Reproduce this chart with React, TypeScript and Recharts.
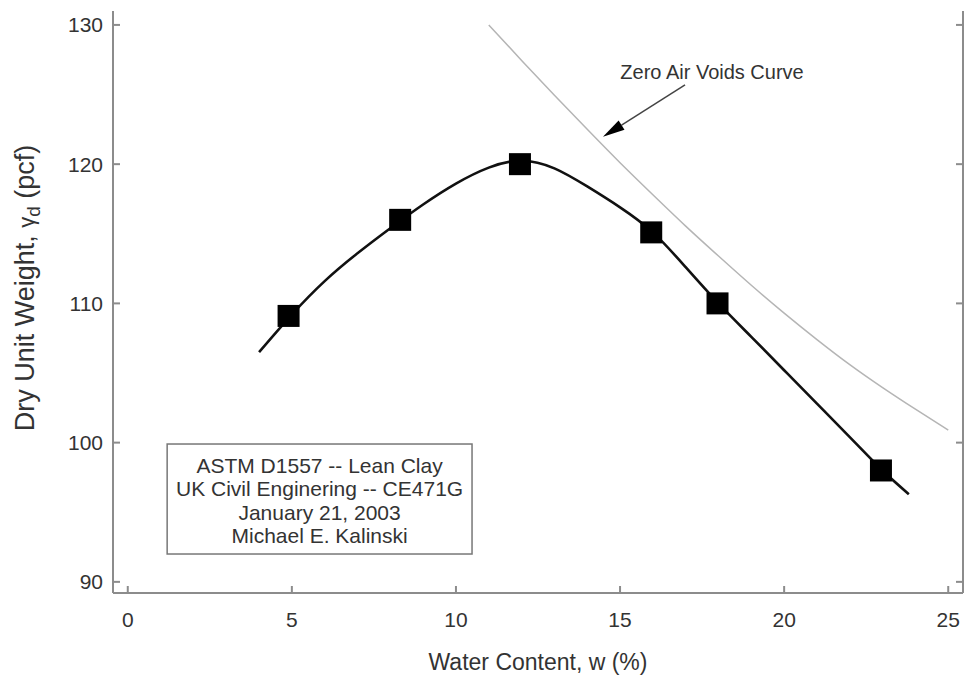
import {
  ComposedChart,
  Line,
  Scatter,
  XAxis,
  YAxis,
  ReferenceArea,
  ReferenceLine,
} from 'recharts';

// measured compaction points
const waterContent = [4.9, 8.3, 11.95, 15.95, 17.97, 22.95];
const dryUnitWeight = [109.1, 116.0, 120.0, 115.1, 110.0, 98.0];

// fitted compaction curve
const fitW = [4.0, 5.0, 6.0, 7.0, 8.0, 9.0, 10.0, 11.0, 12.0, 13.0, 14.0, 15.0, 16.0, 17.0, 18.0, 19.0, 20.0, 21.0, 22.0, 23.0, 23.8];
const fitGamma = [106.5, 109.2, 111.6, 113.6, 115.4, 117.1, 118.6, 119.75, 120.25, 119.7, 118.4, 116.9, 115.1, 112.6, 110.0, 107.6, 105.2, 102.8, 100.4, 98.0, 96.3];

// zero air voids curve
const zavW = [11, 12, 13, 14, 15, 16, 17, 18, 19, 20, 21, 22, 23, 24, 25];
const zavGamma = [130.0, 127.45, 124.95, 122.5, 120.1, 117.8, 115.55, 113.4, 111.3, 109.3, 107.4, 105.6, 103.95, 102.4, 100.9];

const xTicks = [0, 5, 10, 15, 20, 25];
const yTicks = [90, 100, 110, 120, 130];

const noteLines = [
  'ASTM D1557 -- Lean Clay',
  'UK Civil Enginering -- CE471G',
  'January 21, 2003',
  'Michael E. Kalinski',
];
const zavLabel = 'Zero Air Voids Curve';
const xLabel = 'Water Content, w (%)';

const points = waterContent.map((x, i) => ({ x, y: dryUnitWeight[i] }));
const fitData = fitW.map((x, i) => ({ x, y: fitGamma[i] }));
const zavData = zavW.map((x, i) => ({ x, y: zavGamma[i] }));

const FONT = '"Liberation Sans", Arial, sans-serif';
const AXIS = '#8c8c8c';
const TEXT = '#333';

const axisLine = { stroke: AXIS, strokeWidth: 2 };
const tickStyle = { fill: TEXT, fontSize: 21, fontFamily: FONT };

const Square = (props: any) => (
  <rect x={props.cx - 11} y={props.cy - 11} width={22} height={22} fill="#000" />
);

const NoteBox = (p: any) => {
  const cx = p.x + p.width / 2;
  return (
    <g>
      <rect x={p.x} y={p.y} width={p.width} height={p.height} fill="#fff" stroke="#777" strokeWidth={1.5} />
      {noteLines.map((t, i) => (
        <text key={i} x={cx} y={p.y + 29 + i * 23.4} textAnchor="middle" fontSize={21} fontFamily={FONT} fill={TEXT}>
          {t}
        </text>
      ))}
    </g>
  );
};

const Arrow = (p: any) => {
  const { x1, y1, x2, y2 } = p;
  const dx = x2 - x1;
  const dy = y2 - y1;
  const len = Math.sqrt(dx * dx + dy * dy) || 1;
  const ux = dx / len;
  const uy = dy / len;
  const bx = x2 - ux * 22;
  const by = y2 - uy * 22;
  const px = -uy * 5.5;
  const py = ux * 5.5;
  return (
    <g>
      <line x1={x1} y1={y1} x2={bx} y2={by} stroke="#444" strokeWidth={1.5} />
      <polygon points={`${x2},${y2} ${bx + px},${by + py} ${bx - px},${by - py}`} fill="#000" />
      <text x={x1 + 27} y={y1 - 6} textAnchor="middle" fontSize={20} fontFamily={FONT} fill={TEXT}>
        {zavLabel}
      </text>
    </g>
  );
};

const XTitle = (props: any) => {
  const vb = props.viewBox;
  return (
    <text x={vb.x + vb.width / 2} y={vb.y + 77} textAnchor="middle" fontSize={23} fontFamily={FONT} fill={TEXT}>
      {xLabel}
    </text>
  );
};

const YTitle = (props: any) => {
  const vb = props.viewBox;
  const x = vb.x - 19;
  const y = vb.y + vb.height / 2 - 14;
  return (
    <text
      x={x}
      y={y}
      transform={`rotate(-90, ${x}, ${y})`}
      textAnchor="middle"
      fontSize={27}
      fontFamily={FONT}
      fill={TEXT}
    >
      Dry Unit Weight,{' '}
      <tspan fontSize={22}>γ</tspan>
      <tspan fontSize={19} dy={6}>d</tspan>
      <tspan dy={-6}> (pcf)</tspan>
    </text>
  );
};

export default function App() {
  return (
    <div style={{ position: 'absolute', left: 0, top: 0, width: 964, height: 679, background: '#fff' }}>
      <ComposedChart
        width={964}
        height={679}
        margin={{ top: 11, right: 0, bottom: 56, left: 53 }}
        style={{ fontFamily: FONT }}
      >
        <XAxis
          dataKey="x"
          type="number"
          domain={[-0.45, 25.45]}
          ticks={xTicks}
          allowDataOverflow
          height={30}
          axisLine={axisLine}
          tickLine={axisLine}
          tickSize={-7}
          tickMargin={26}
          tick={tickStyle}
          label={<XTitle />}
        />
        <XAxis
          xAxisId="top"
          orientation="top"
          dataKey="x"
          type="number"
          domain={[-0.45, 25.45]}
          height={0}
          axisLine={axisLine}
          tick={false}
          tickLine={false}
        />
        <YAxis
          dataKey="y"
          type="number"
          domain={[89.2, 131.0]}
          ticks={yTicks}
          allowDataOverflow
          width={60}
          axisLine={axisLine}
          tickLine={axisLine}
          tickSize={-7}
          tickMargin={17}
          tick={tickStyle}
          label={<YTitle />}
        />
        <YAxis
          yAxisId="right"
          orientation="right"
          dataKey="y"
          type="number"
          domain={[89.2, 131.0]}
          ticks={yTicks}
          allowDataOverflow
          width={1}
          axisLine={axisLine}
          tickLine={axisLine}
          tickSize={-7}
          tickFormatter={() => ''}
        />
        <ReferenceArea x1={1.2} x2={10.49} y1={92.0} y2={99.9} shape={NoteBox} />
        <ReferenceLine
          segment={[
            { x: 16.98, y: 125.69 },
            { x: 14.48, y: 121.96 },
          ]}
          shape={Arrow}
        />
        <Line
          data={zavData}
          dataKey="y"
          type="natural"
          stroke="#b5b5b5"
          strokeWidth={1.5}
          dot={false}
          isAnimationActive={false}
        />
        <Line
          data={fitData}
          dataKey="y"
          type="natural"
          stroke="#111"
          strokeWidth={2.6}
          dot={false}
          isAnimationActive={false}
        />
        <Scatter data={points} dataKey="y" shape={Square} isAnimationActive={false} />
      </ComposedChart>
    </div>
  );
}
